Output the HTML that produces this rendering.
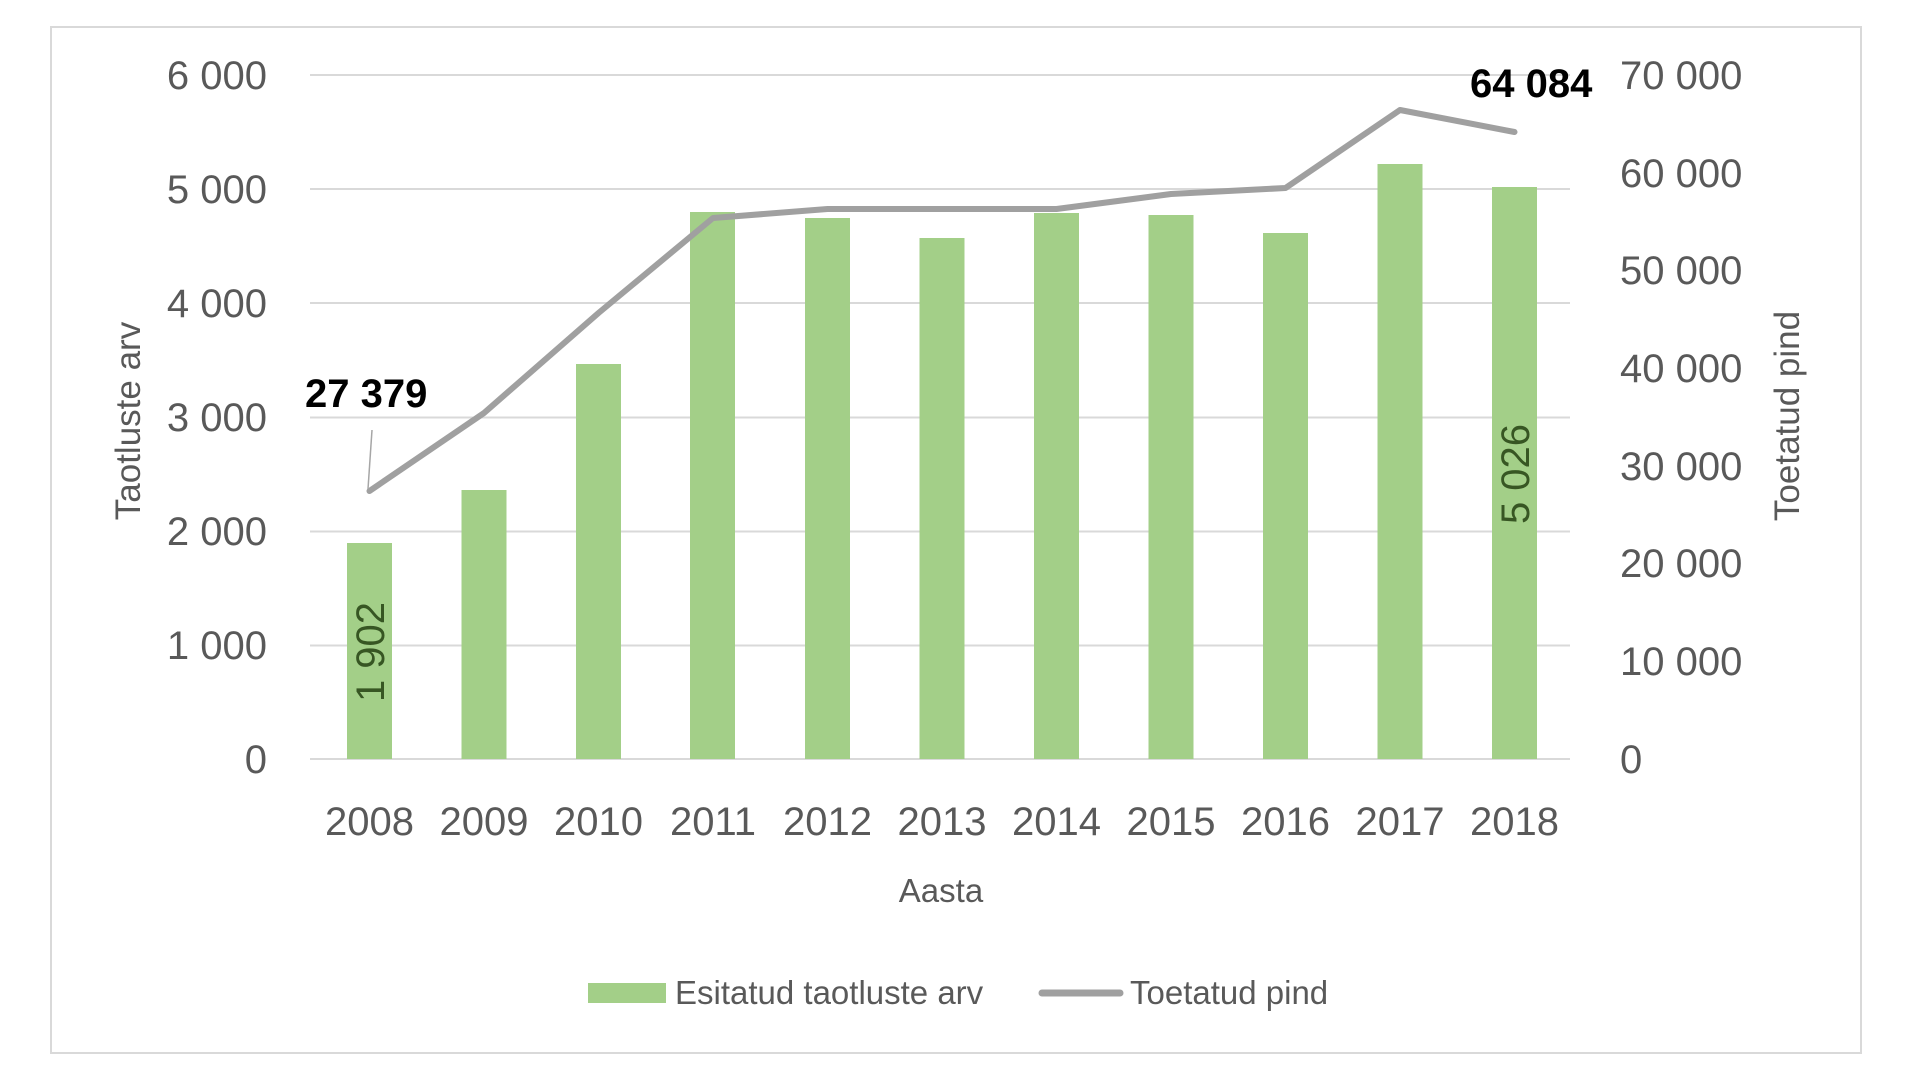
<!DOCTYPE html>
<html>
<head>
<meta charset="utf-8">
<style>
  html, body { margin: 0; padding: 0; background: #ffffff; }
  body { width: 1920px; height: 1092px; overflow: hidden; }
  svg { display: block; }
  text { font-family: "Liberation Sans", Arial, sans-serif; }
</style>
</head>
<body>
<svg width="1920" height="1092" viewBox="0 0 1920 1092" xmlns="http://www.w3.org/2000/svg">
  <rect x="0" y="0" width="1920" height="1092" fill="#ffffff"/>
  <!-- chart border -->
  <rect x="51" y="27" width="1810" height="1026" fill="#ffffff" stroke="#d9d9d9" stroke-width="2"/>

  <!-- gridlines -->
  <g stroke="#d9d9d9" stroke-width="2">
    <line x1="310" y1="75" x2="1570" y2="75"/>
    <line x1="310" y1="189" x2="1570" y2="189"/>
    <line x1="310" y1="303" x2="1570" y2="303"/>
    <line x1="310" y1="417.5" x2="1570" y2="417.5"/>
    <line x1="310" y1="531.5" x2="1570" y2="531.5"/>
    <line x1="310" y1="645.5" x2="1570" y2="645.5"/>
    <line x1="310" y1="759" x2="1570" y2="759"/>
  </g>

  <!-- left axis labels -->
  <g font-size="40" fill="#595959" text-anchor="end">
    <text x="267" y="89">6 000</text>
    <text x="267" y="203">5 000</text>
    <text x="267" y="317">4 000</text>
    <text x="267" y="431">3 000</text>
    <text x="267" y="545">2 000</text>
    <text x="267" y="659">1 000</text>
    <text x="267" y="773">0</text>
  </g>

  <!-- right axis labels -->
  <g font-size="40" fill="#595959" text-anchor="start">
    <text x="1620" y="89">70 000</text>
    <text x="1620" y="187">60 000</text>
    <text x="1620" y="284">50 000</text>
    <text x="1620" y="382">40 000</text>
    <text x="1620" y="480">30 000</text>
    <text x="1620" y="577">20 000</text>
    <text x="1620" y="675">10 000</text>
    <text x="1620" y="773">0</text>
  </g>

  <!-- bars -->
  <g fill="#a3cf88">
    <rect x="347" y="543" width="45" height="216"/>
    <rect x="461.5" y="490" width="45" height="269"/>
    <rect x="576" y="364" width="45" height="395"/>
    <rect x="690" y="212" width="45" height="547"/>
    <rect x="805" y="218" width="45" height="541"/>
    <rect x="919.5" y="238" width="45" height="521"/>
    <rect x="1034" y="213" width="45" height="546"/>
    <rect x="1148.5" y="215" width="45" height="544"/>
    <rect x="1263" y="233" width="45" height="526"/>
    <rect x="1377.5" y="164" width="45" height="595"/>
    <rect x="1492" y="187" width="45" height="572"/>
  </g>

  <!-- bar data labels -->
  <g font-size="40" fill="#375623" text-anchor="middle">
    <text transform="translate(384,652) rotate(-90)">1 902</text>
    <text transform="translate(1529,474) rotate(-90)">5 026</text>
  </g>

  <!-- line series -->
  <polyline fill="none" stroke="#a0a0a0" stroke-width="6" stroke-linejoin="round" stroke-linecap="round"
    points="369.5,491 484,413 598.5,313 713,218 827.5,209 942,209 1056.5,209 1171,194 1285.5,188 1400,110 1514.5,132"/>

  <!-- leader line for 27 379 -->
  <line x1="372" y1="430" x2="368" y2="489" stroke="#a6a6a6" stroke-width="1.5"/>

  <!-- line data labels -->
  <g font-size="40" font-weight="bold" fill="#000000">
    <text x="305" y="407">27 379</text>
    <text x="1470" y="97">64 084</text>
  </g>

  <!-- year labels -->
  <g font-size="40" fill="#595959" text-anchor="middle">
    <text x="369.5" y="835">2008</text>
    <text x="484" y="835">2009</text>
    <text x="598.5" y="835">2010</text>
    <text x="713" y="835">2011</text>
    <text x="827.5" y="835">2012</text>
    <text x="942" y="835">2013</text>
    <text x="1056.5" y="835">2014</text>
    <text x="1171" y="835">2015</text>
    <text x="1285.5" y="835">2016</text>
    <text x="1400" y="835">2017</text>
    <text x="1514.5" y="835">2018</text>
  </g>

  <!-- axis titles -->
  <text x="941" y="902" font-size="33" fill="#595959" text-anchor="middle">Aasta</text>
  <text transform="translate(140,421) rotate(-90)" font-size="35" fill="#595959" text-anchor="middle">Taotluste arv</text>
  <text transform="translate(1799,416) rotate(-90)" font-size="35" fill="#595959" text-anchor="middle">Toetatud pind</text>

  <!-- legend -->
  <rect x="588" y="983" width="78" height="20" fill="#a3cf88"/>
  <text x="675" y="1004" font-size="33" fill="#595959">Esitatud taotluste arv</text>
  <line x1="1042" y1="993" x2="1120" y2="993" stroke="#a0a0a0" stroke-width="7" stroke-linecap="round"/>
  <text x="1130" y="1004" font-size="33" fill="#595959">Toetatud pind</text>
</svg>
</body>
</html>
